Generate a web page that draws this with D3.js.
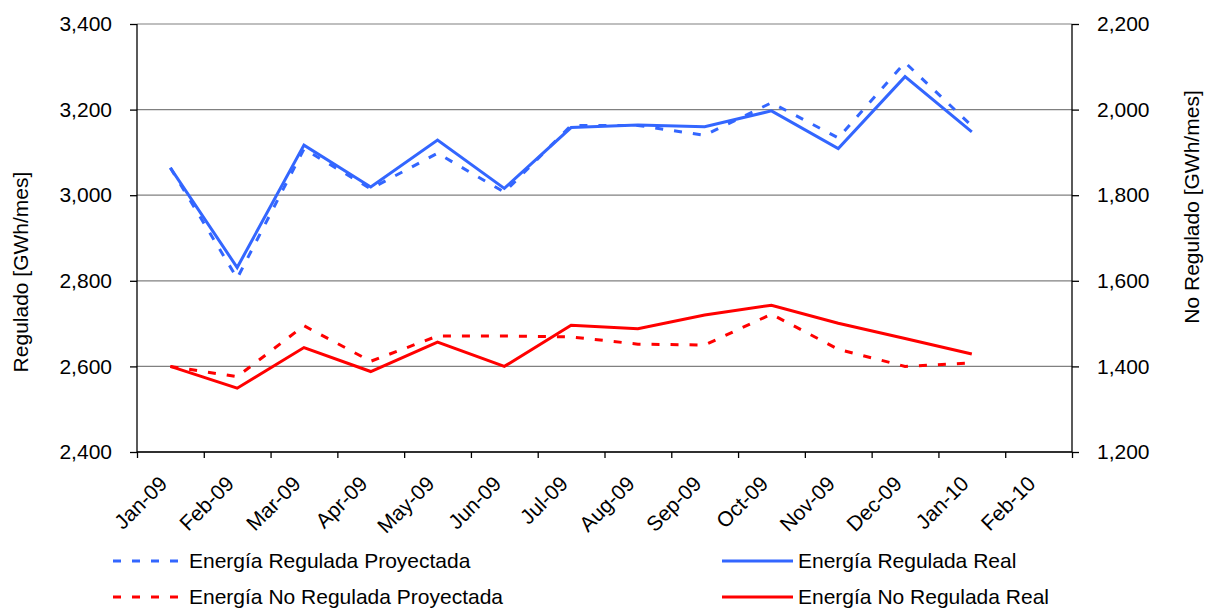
<!DOCTYPE html>
<html>
<head>
<meta charset="utf-8">
<script src="https://cdn.jsdelivr.net/npm/d3@7"></script>
<style>
  body { margin: 0; background: #fff; }
  text { font-family: "Liberation Sans", Arial, sans-serif; fill: #000; }
</style>
</head>
<body>
<svg id="svg" width="1205" height="608"></svg>
<script>
// month labels on the x axis (tick boundaries)
const months = ["Jan-09","Feb-09","Mar-09","Apr-09","May-09","Jun-09","Jul-09",
                "Aug-09","Sep-09","Oct-09","Nov-09","Dec-09","Jan-10","Feb-10"];
// left axis (Regulado)
const regProyectada = [3064, 2806, 3108, 3015, 3098, 3007, 3163, 3163, 3140, 3216, 3134, 3310, 3162];
const regReal       = [3064, 2831, 3117, 3019, 3129, 3016, 3158, 3164, 3160, 3197, 3109, 3277, 3148];
// right axis (No Regulado)
const noRegProyectada = [1400, 1376, 1495, 1412, 1471, 1471, 1469, 1452, 1450, 1522, 1440, 1400, 1408];
const noRegReal       = [1400, 1349, 1444, 1388, 1457, 1400, 1496, 1488, 1520, 1543, 1501, 1465, 1429];
const leftTicks  = [2400, 2600, 2800, 3000, 3200, 3400];
const rightTicks = [1200, 1400, 1600, 1800, 2000, 2200];

const svg = d3.select("#svg");
const plotL = 137, plotR = 1072, plotT = 24, plotB = 452;

const x = d3.scaleLinear().domain([0, months.length]).range([plotL, plotR]);
const yL = d3.scaleLinear().domain([2400, 3400]).range([plotB, plotT]);
const yR = d3.scaleLinear().domain([1200, 2200]).range([plotB, plotT]);

// gridlines
svg.append("g").selectAll("line")
  .data(leftTicks)
  .enter().append("line")
  .attr("x1", plotL).attr("x2", plotR)
  .attr("y1", d => yL(d)).attr("y2", d => yL(d))
  .attr("stroke", "#808080").attr("stroke-width", 1.2);

const fmt = d3.format(",");

const gl = svg.append("g").attr("transform", `translate(${plotL},0)`)
  .call(d3.axisLeft(yL).tickValues(leftTicks).tickSize(7).tickPadding(18).tickFormat(fmt));
const gr = svg.append("g").attr("transform", `translate(${plotR},0)`)
  .call(d3.axisRight(yR).tickValues(rightTicks).tickSize(7).tickPadding(18).tickFormat(fmt));
const gx = svg.append("g").attr("transform", `translate(0,${plotB})`)
  .call(d3.axisBottom(x).tickValues(d3.range(months.length + 1)).tickSize(6).tickFormat(i => months[i] || ""));

[gl, gr, gx].forEach(g => {
  g.select(".domain").attr("stroke", "#000").attr("stroke-width", 1.3);
  g.selectAll(".tick line").attr("stroke", "#000").attr("stroke-width", 1.3);
  g.selectAll("text").style("font-family", '"Liberation Sans", Arial, sans-serif')
    .style("font-size", "21px").attr("fill", "#000");
});
gl.select(".domain").attr("d", `M0,${plotB}V${plotT}`);
gr.select(".domain").attr("d", `M0,${plotB}V${plotT}`);
gx.select(".domain").attr("d", `M${plotL},0H${plotR}`);

gx.selectAll(".tick text")
  .attr("text-anchor", "end")
  .attr("dy", null)
  .attr("y", 0)
  .attr("transform", "translate(31,33) rotate(-45)");

// axis titles
svg.append("text")
  .attr("transform", "translate(28,272) rotate(-90)")
  .attr("text-anchor", "middle")
  .style("font-size", "21px")
  .text("Regulado [GWh/mes]");
svg.append("text")
  .attr("transform", "translate(1199,207) rotate(-90)")
  .attr("text-anchor", "middle")
  .style("font-size", "21px")
  .text("No Regulado [GWh/mes]");

const blue = "#3366FF", red = "#FF0000";
const dash = "8,11";

const lineL = d3.line().x((d, i) => x(i + 0.5)).y(d => yL(d));
const lineR = d3.line().x((d, i) => x(i + 0.5)).y(d => yR(d));

const series = [
  { data: regProyectada,   line: lineL, color: blue, dash: dash },
  { data: noRegProyectada, line: lineR, color: red,  dash: dash },
  { data: regReal,         line: lineL, color: blue, dash: null },
  { data: noRegReal,       line: lineR, color: red,  dash: null }
];

svg.append("g").selectAll("path")
  .data(series)
  .enter().append("path")
  .attr("d", s => s.line(s.data))
  .attr("fill", "none")
  .attr("stroke", s => s.color)
  .attr("stroke-width", 3)
  .attr("stroke-dasharray", s => s.dash)
  .attr("stroke-linejoin", "miter");

// legend
const legend = [
  { name: "Energía Regulada Proyectada",    color: blue, dash: dash, x: 113, y: 561 },
  { name: "Energía Regulada Real",          color: blue, dash: null, x: 722, y: 561 },
  { name: "Energía No Regulada Proyectada", color: red,  dash: dash, x: 113, y: 597 },
  { name: "Energía No Regulada Real",       color: red,  dash: null, x: 722, y: 597 }
];
const lg = svg.append("g").selectAll("g")
  .data(legend)
  .enter().append("g")
  .attr("transform", d => `translate(${d.x},${d.y})`);
lg.append("line")
  .attr("x1", 0).attr("x2", 71)
  .attr("stroke", d => d.color)
  .attr("stroke-width", 3)
  .attr("stroke-dasharray", d => d.dash);
lg.append("text")
  .attr("x", 76)
  .attr("dy", "0.35em")
  .style("font-size", "21px")
  .text(d => d.name);
</script>
</body>
</html>
